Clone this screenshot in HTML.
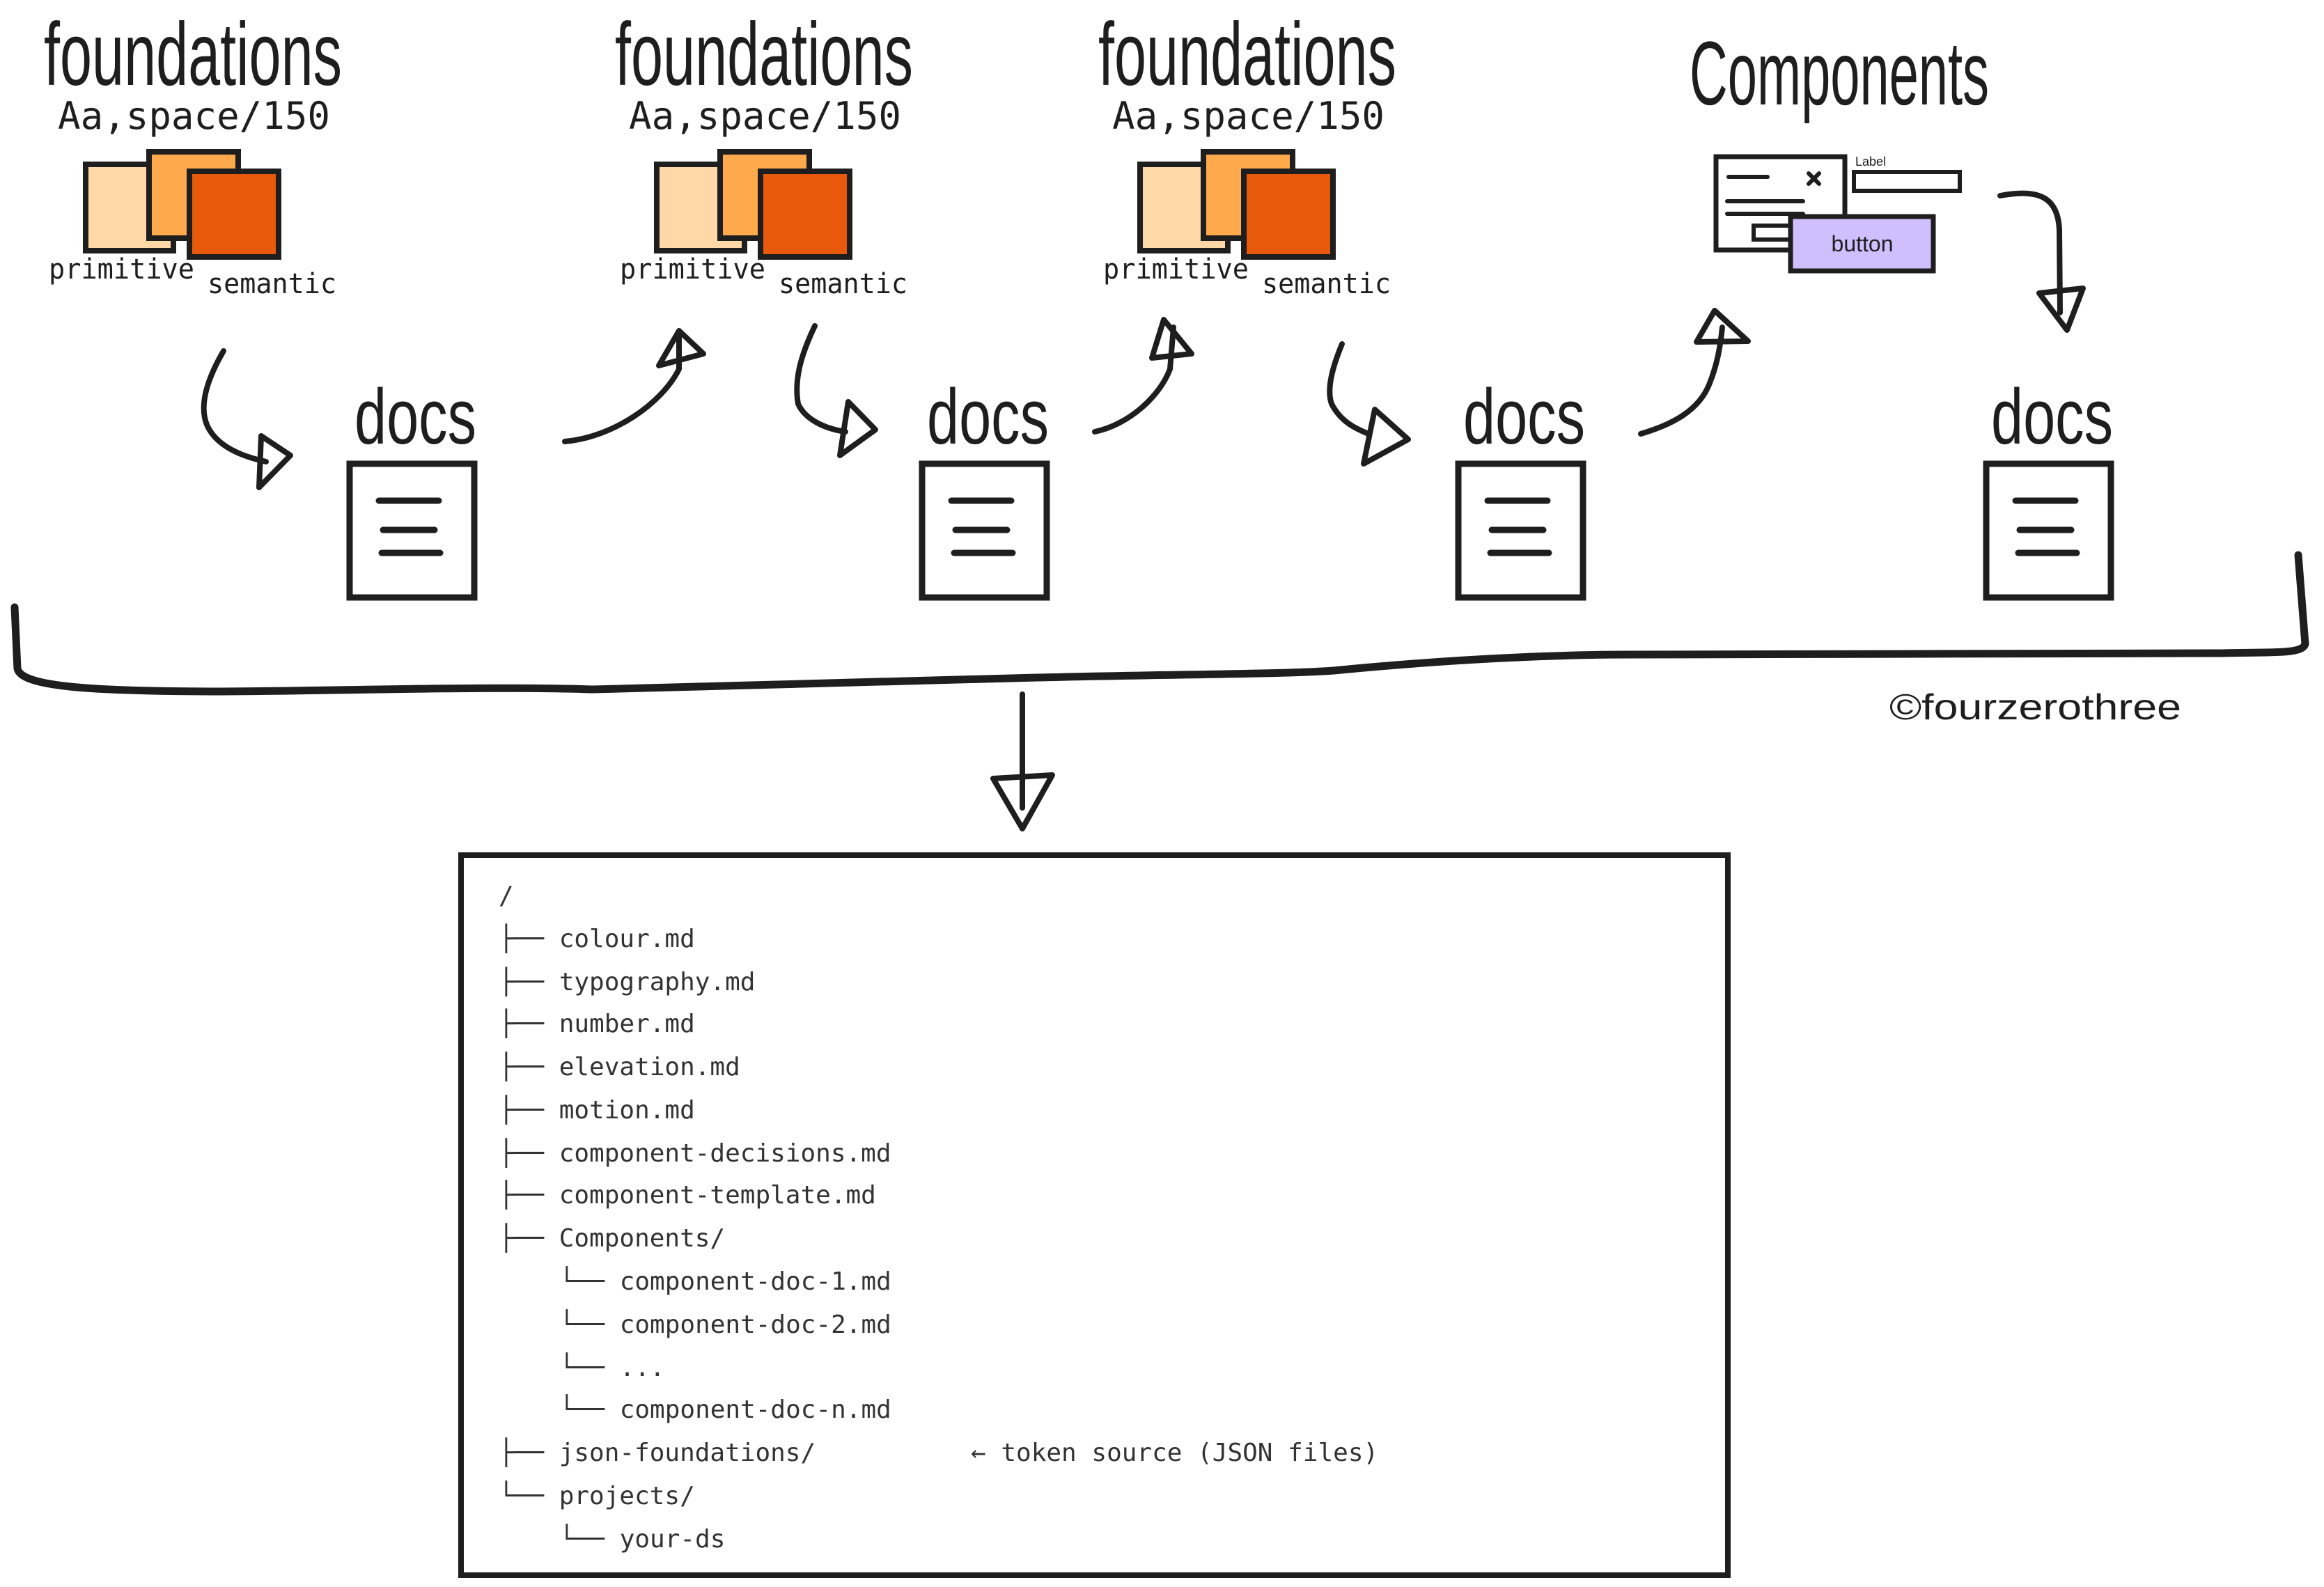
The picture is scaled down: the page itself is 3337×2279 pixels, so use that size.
<!DOCTYPE html>
<html><head><meta charset="utf-8"><style>
html,body{margin:0;padding:0;background:#fff;}
svg{display:block;}
.h{font-family:"Liberation Sans","DejaVu Sans",sans-serif;fill:#1e1e1e;}
.m{font-family:"DejaVu Sans Mono","Liberation Mono",monospace;fill:#1e1e1e;}
.t{font-family:"DejaVu Sans Mono","Liberation Mono",monospace;fill:#333;font-size:36px;white-space:pre;}
</style></head><body>
<svg width="3337" height="2279" viewBox="0 0 3337 2279" xmlns="http://www.w3.org/2000/svg">
<defs>
<g id="fnd">
  <text class="h" x="63" y="122" font-size="128" textLength="428" lengthAdjust="spacingAndGlyphs">foundations</text>
  <text class="m" x="83" y="185" font-size="54" textLength="391" lengthAdjust="spacingAndGlyphs">Aa,space/150</text>
  <rect x="123" y="236" width="126" height="124" fill="#ffd8a8" stroke="#1e1e1e" stroke-width="8"/>
  <rect x="214" y="218" width="128" height="124" fill="#ffa94d" stroke="#1e1e1e" stroke-width="8"/>
  <rect x="272" y="246" width="128" height="123" fill="#e8590c" stroke="#1e1e1e" stroke-width="8"/>
  <text class="m" x="70" y="400" font-size="40" textLength="209" lengthAdjust="spacingAndGlyphs">primitive</text>
  <text class="m" x="298" y="421" font-size="40" textLength="185" lengthAdjust="spacingAndGlyphs">semantic</text>
</g>
<g id="doc">
  <text class="h" x="509" y="637" font-size="112" textLength="175" lengthAdjust="spacingAndGlyphs">docs</text>
  <rect x="502" y="666" width="179" height="192" fill="none" stroke="#1e1e1e" stroke-width="9"/>
  <g stroke="#1e1e1e" stroke-width="9" stroke-linecap="round">
    <line x1="544" y1="719" x2="630" y2="719"/>
    <line x1="550" y1="761" x2="624" y2="761"/>
    <line x1="548" y1="794" x2="632" y2="794"/>
  </g>
</g>
</defs>

<use href="#fnd"/>
<use href="#fnd" transform="translate(820,0)"/>
<use href="#fnd" transform="translate(1514,0)"/>
<use href="#doc"/>
<use href="#doc" transform="translate(822,0)"/>
<use href="#doc" transform="translate(1592,0)"/>
<use href="#doc" transform="translate(2350,0)"/>

<g fill="none" stroke="#1e1e1e" stroke-width="8" stroke-linecap="round" stroke-linejoin="round">
  <path d="M321,504 C300,540 285,580 297,610 C310,640 345,655 382,663"/>
  <path d="M375,626 L372,700 L417,654 Z"/>
  <path d="M1170,468 C1150,510 1140,545 1146,580 C1155,600 1180,615 1214,620"/>
  <path d="M1218,577 L1206,654 L1257,617 Z"/>
  <path d="M1927,494 C1912,530 1905,560 1912,580 C1925,605 1945,615 1965,623"/>
  <path d="M1974,588 L1958,666 L2022,631 Z"/>
  <path d="M811,634 C880,628 950,580 975,530 L975,478"/>
  <path d="M946,525 L1010,508 L975,475 Z"/>
  <path d="M1572,620 C1620,610 1665,570 1680,530 L1685,470"/>
  <path d="M1654,514 L1711,508 L1671,459 Z"/>
  <path d="M2356,623 C2400,610 2440,590 2455,550 C2465,525 2470,500 2473,470"/>
  <path d="M2436,491 L2510,490 L2462,446 Z"/>
  <path d="M2872,281 C2930,270 2955,285 2957,330 L2958,449"/>
  <path d="M2928,421 L2991,414 L2968,474 Z"/>
  <path d="M21,872 L25,960 C30,985 120,993 319,993 C500,992 700,985 851,990 C1100,985 1300,980 1489,973 C1700,968 1850,968 1915,963 C2100,945 2250,940 2340,940 L2766,939 L3191,938 C3260,936 3305,940 3310,925 L3300,797" stroke-width="11"/>
  <path d="M1468,997 L1468,1160"/>
  <path d="M1426,1118 L1511,1113 L1468,1190 Z"/>
</g>

<text class="h" x="2426" y="150" font-size="130" textLength="430" lengthAdjust="spacingAndGlyphs">Components</text>
<rect x="2464" y="225" width="185" height="134" fill="#fff" stroke="#1e1e1e" stroke-width="7"/>
<g stroke="#1e1e1e" stroke-width="6" stroke-linecap="round">
  <line x1="2482" y1="254" x2="2538" y2="254"/>
  <line x1="2597" y1="249" x2="2612" y2="264"/>
  <line x1="2612" y1="249" x2="2597" y2="264"/>
  <line x1="2480" y1="289" x2="2589" y2="289"/>
  <line x1="2480" y1="307" x2="2589" y2="307"/>
</g>
<rect x="2518" y="324" width="56" height="20" fill="#fff" stroke="#1e1e1e" stroke-width="6"/>
<text x="2664" y="238" font-family="Liberation Sans, sans-serif" font-size="18" fill="#1e1e1e">Label</text>
<rect x="2662" y="247" width="152" height="27" fill="#fff" stroke="#1e1e1e" stroke-width="6"/>
<rect x="2571" y="311" width="205" height="78" fill="#d0bfff" stroke="#1e1e1e" stroke-width="7"/>
<text x="2674" y="361" text-anchor="middle" font-family="Liberation Sans, sans-serif" font-size="32" fill="#1e1e1e">button</text>

<text class="h" x="2713" y="1033" font-size="52" textLength="419" lengthAdjust="spacingAndGlyphs">©fourzerothree</text>

<rect x="662" y="1228" width="1819" height="1034" fill="none" stroke="#1e1e1e" stroke-width="8"/>
<text class="t" x="716" y="1298">/</text>
<text class="t" x="716" y="1360">├── colour.md</text>
<text class="t" x="716" y="1422">├── typography.md</text>
<text class="t" x="716" y="1482">├── number.md</text>
<text class="t" x="716" y="1544">├── elevation.md</text>
<text class="t" x="716" y="1606">├── motion.md</text>
<text class="t" x="716" y="1668">├── component-decisions.md</text>
<text class="t" x="716" y="1728">├── component-template.md</text>
<text class="t" x="716" y="1790">├── Components/</text>
<text class="t" x="803" y="1852">└── component-doc-1.md</text>
<text class="t" x="803" y="1914">└── component-doc-2.md</text>
<text class="t" x="803" y="1976">└── ...</text>
<text class="t" x="803" y="2036">└── component-doc-n.md</text>
<text class="t" x="716" y="2098">├── json-foundations/</text>
<text class="t" x="1394" y="2098">← token source (JSON files)</text>
<text class="t" x="716" y="2160">└── projects/</text>
<text class="t" x="803" y="2222">└── your-ds</text>
</svg>
</body></html>
